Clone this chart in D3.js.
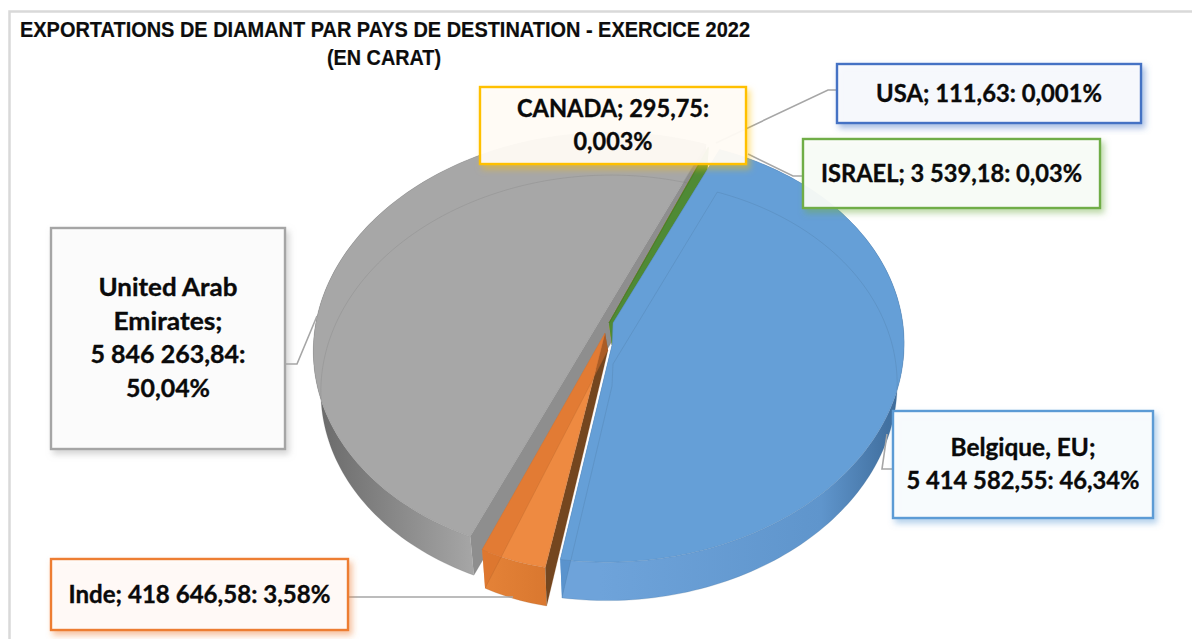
<!DOCTYPE html>
<html>
<head>
<meta charset="utf-8">
<script src="https://cdn.jsdelivr.net/npm/d3@7"></script>
<style>
html,body{margin:0;padding:0;background:#fff;}
svg{display:block;}
</style>
</head>
<body>
<div id="chart"></div>
<script>
// ---- data ----
const categories = ["Belgique, EU", "Inde", "United Arab Emirates", "USA", "CANADA", "ISRAEL"];
const carats = [5414582.55, 418646.58, 5846263.84, 111.63, 295.75, 3539.18];
const labelLines = [
  ["Belgique, EU;", "5 414 582,55: 46,34%"],
  ["Inde; 418 646,58: 3,58%"],
  ["United Arab", "Emirates;", "5 846 263,84:", "50,04%"],
  ["USA; 111,63: 0,001%"],
  ["CANADA; 295,75:", "0,003%"],
  ["ISRAEL; 3 539,18: 0,03%"]
];
const titleLines = ["EXPORTATIONS DE DIAMANT PAR PAYS DE DESTINATION - EXERCICE 2022", "(EN CARAT)"];

// ---- styles and layout ----
const sliceColors = ["#659fd7", "#ee8a41", "#a7a7a7", "#4472c4", "#ffc000", "#4f8a35"];
const wallColors = [["#6ea3da", "#3f6d9c"], ["#e58338", "#d9772f"], ["#a6a6a6", "#6b6b6b"], ["#4472c4", "#4472c4"], ["#ffc000", "#ffc000"], ["#4f8a35", "#4f8a35"]];
const radialWallColors = ["#5a93cd", "#74461f", "#8e8e8e", "#4472c4", "#ffc000", "#4f8a35"];
const borderColors = ["#5b9bd5", "#ed7d31", "#a5a5a5", "#4472c4", "#ffc000", "#70ad47"];
// projected hub of each exploded slice, and where the visible tip of the wedge sits relative to it
const hubs = [[627, 302], [600, 310], [614, 297], [616, 300], [616, 300], [616, 300]];
const reach = [1, 0.82, 1, 1, 1, 1];
const tips = [[[-15, 43], [-14, 21]], [[5, 23]], [[0, 0]], [[-7, 23]], [[-7, 23]], [[-7, 23]]];
const tipBottoms = [[[-15, 84], [-14, 62]], [[8, 40]], [[0, 41]], [[-4, 45]], [[-4, 45]], [[-4, 45]]];
const labelBoxes = [
  {x: 893, y: 411, w: 260, h: 107},
  {x: 51, y: 559, w: 297, h: 71},
  {x: 51, y: 228, w: 234, h: 221},
  {x: 837, y: 64, w: 304, h: 59},
  {x: 480, y: 87, w: 266, h: 77},
  {x: 803, y: 139, w: 297, h: 69}
];
const labelRowWidths = [[145, 233], [262], [139, 109, 155, 84], [226], [192, 79], [261]];
const leaderPaths = [
  [[893, 469], [882, 469], [887, 434]],
  [[348, 597], [513, 597]],
  [[285, 364], [297, 364], [317, 316]],
  [[837, 90], [828, 90], [716, 143]],
  [],
  [[803, 176], [793, 176], [748, 154]]
];
const drawOrder = [2, 3, 4, 5, 1, 0];
const depth = 41;
const startDeg = 22.5;
const persp = {back: 0.225, side: 0.035, tilt: 6};

const width = 1192, height = 639;
const svg = d3.select("#chart").append("svg").attr("width", width).attr("height", height);
const defs = svg.append("defs");

const pie = d3.pie().sort(null).value(d => d)
  .startAngle(startDeg * Math.PI / 180)
  .endAngle((startDeg + 360) * Math.PI / 180);
const arcs = pie(carats);

const xScale = d3.scaleLinear().domain([-1, 1]).range([-281, 281]);
const yScale = d3.scaleLinear().domain([-1, 1]).range([201.5, -201.5]);

function project(i, theta, level) {
  const u = Math.sin(theta), v = Math.cos(theta);
  const w = 1 + persp.back * v + persp.side * u;
  const dx = reach[i] * (xScale(u) + persp.tilt * v) / w;
  const dy = yScale(v) / w;
  const [cx, cy] = hubs[i];
  return level ? [cx + dx * 0.975, cy + dy * 0.99 + depth] : [cx + dx, cy + dy];
}
function rim(i, a, level) {
  const n = Math.max(2, Math.ceil((a.endAngle - a.startAngle) / 0.02));
  return d3.range(n + 1).map(k => project(i, a.startAngle + (a.endAngle - a.startAngle) * k / n, level));
}
const line = d3.line();
const hubPts = (i, rows) => rows[i].map(o => [hubs[i][0] + o[0], hubs[i][1] + o[1]]);

// drop shadows, one per label colour
borderColors.forEach((c, i) => {
  defs.append("filter").attr("id", "sh" + i)
    .attr("x", "-10%").attr("y", "-15%").attr("width", "125%").attr("height", "135%")
    .append("feDropShadow").attr("dx", 3).attr("dy", 4).attr("stdDeviation", 3)
    .attr("flood-color", c).attr("flood-opacity", 0.5);
  const g = defs.append("linearGradient").attr("id", "wall" + i)
    .attr("gradientUnits", "userSpaceOnUse");
  if (i === 2) g.attr("x1", 473).attr("x2", 320).attr("y1", 0).attr("y2", 0);
  else if (i === 0) g.attr("x1", 600).attr("x2", 895).attr("y1", 0).attr("y2", 0);
  else g.attr("x1", 480).attr("x2", 550).attr("y1", 0).attr("y2", 0);
  g.append("stop").attr("offset", "0%").attr("stop-color", wallColors[i][0]);
  if (i === 0) g.append("stop").attr("offset", "75%").attr("stop-color", "#5f95cc");
  g.append("stop").attr("offset", "100%").attr("stop-color", wallColors[i][1]);
});

// outer frame
svg.append("path").attr("d", "M9.5,639V11.5H1192").attr("fill", "none").attr("stroke", "#d9d9d9").attr("stroke-width", 2.5);

// title
svg.selectAll("text.title").data(titleLines).join("text").attr("class", "title")
  .attr("x", (d, i) => i ? 327 : 20)
  .attr("y", (d, i) => i ? 65 : 37)
  .attr("textLength", (d, i) => i ? 114 : 730)
  .attr("lengthAdjust", "spacingAndGlyphs")
  .attr("font-family", "'Liberation Sans', Arial, sans-serif")
  .attr("font-weight", 700).attr("font-size", 22.5).attr("fill", "#0d0d0d")
  .attr("stroke", "#0d0d0d").attr("stroke-width", 0.2)
  .text(d => d);

// slices, back to front
const pieG = svg.append("g");
drawOrder.forEach(i => {
  const a = arcs[i];
  const g = pieG.append("g").attr("class", "slice").datum(categories[i]);
  const topRim = rim(i, a, 0), botRim = rim(i, a, 1);
  const tip = hubPts(i, tips), tipB = hubPts(i, tipBottoms);
  // outer curved wall
  g.append("path").attr("d", line(topRim.concat(botRim.slice().reverse())) + "Z")
    .attr("fill", `url(#wall${i})`);
  // radial walls
  const radialEnd = [topRim[topRim.length - 1], tip[0], tipB[0], botRim[botRim.length - 1]];
  const radialStart = [topRim[0], tip[tip.length - 1], tipB[tipB.length - 1], botRim[0]];
  g.append("path").attr("d", line(radialStart) + "Z").attr("fill", radialWallColors[i]);
  if (i !== 1) g.append("path").attr("d", line(radialEnd) + "Z")
    .attr("fill", i === 0 ? "#5a93cd" : radialWallColors[i]);
  // top face
  g.append("path").attr("d", line(topRim.concat(tip)) + "Z")
    .attr("fill", sliceColors[i])
    .attr("stroke", d3.color(sliceColors[i]).darker(0.5)).attr("stroke-opacity", 0.5).attr("stroke-width", 0.8);
  // left wall of the orange wedge shows through its top
  if (i === 1) g.append("path").attr("d", line(radialEnd) + "Z")
    .attr("fill", "#d9702a").attr("fill-opacity", 0.55);
  // floor outline seen through the top
  g.append("path").attr("d", line(botRim.concat(tipB)) + "Z")
    .attr("fill", "none").attr("stroke", d3.color(sliceColors[i]).darker(1.2)).attr("stroke-opacity", 0.3).attr("stroke-width", 0.7);
});

// leader lines
svg.selectAll("path.leader").data(leaderPaths.filter(p => p.length)).join("path").attr("class", "leader")
  .attr("d", d => line(d)).attr("fill", "none").attr("stroke", "#a6a6a6").attr("stroke-width", 1.6);

// labels
const labels = svg.selectAll("g.label").data(categories).join("g").attr("class", "label");
labels.append("rect")
  .attr("x", (d, i) => labelBoxes[i].x).attr("y", (d, i) => labelBoxes[i].y)
  .attr("width", (d, i) => labelBoxes[i].w).attr("height", (d, i) => labelBoxes[i].h)
  .attr("fill", (d, i) => d3.interpolateRgb("#fff", borderColors[i])(0.025))
  .attr("fill-opacity", 0.92)
  .attr("stroke", (d, i) => borderColors[i]).attr("stroke-width", 2.4)
  .attr("filter", (d, i) => `url(#sh${i})`);
labels.each(function (d, i) {
  const b = labelBoxes[i], rows = labelLines[i], lh = 33.5;
  d3.select(this).selectAll("text").data(rows).join("text")
    .attr("x", b.x + b.w / 2)
    .attr("y", (t, k) => b.y + b.h / 2 - (rows.length - 1) * lh / 2 + lh * k + 8)
    .attr("text-anchor", "middle")
    .attr("textLength", (t, k) => labelRowWidths[i][k])
    .attr("lengthAdjust", "spacingAndGlyphs")
    .attr("font-family", "Lato, 'Noto Sans', sans-serif")
    .attr("font-weight", 700).attr("font-size", 24.5).attr("fill", "#0a0a0a")
    .attr("stroke", "#0a0a0a").attr("stroke-width", 0.35)
    .text(t => t);
});
</script>
</body>
</html>
